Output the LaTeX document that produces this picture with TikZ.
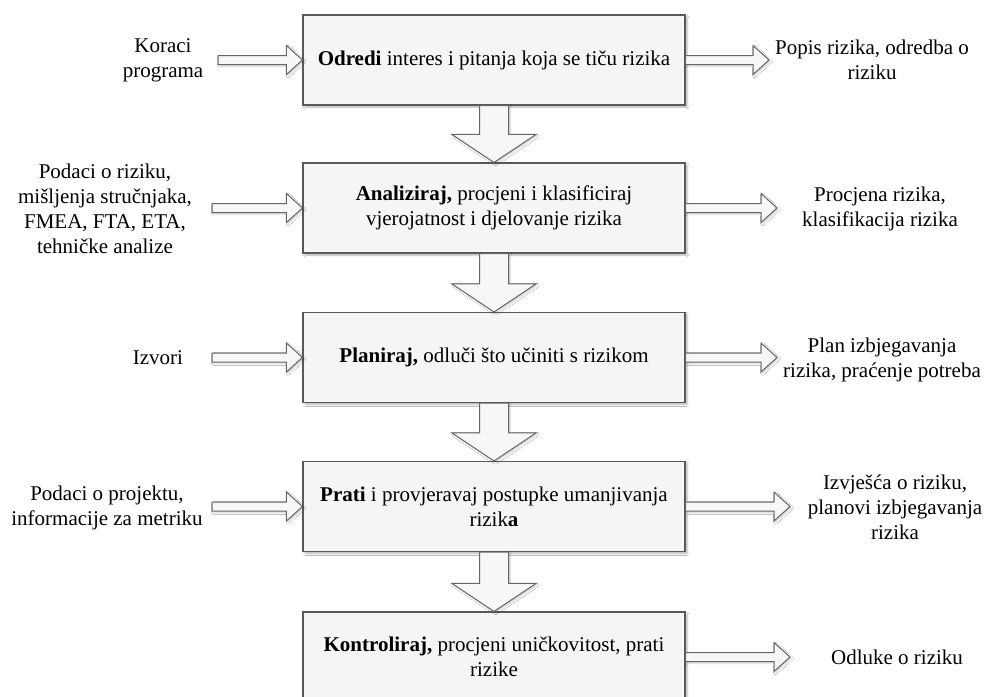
\documentclass[tikz,border=0pt]{standalone}
\usepackage{fontspec}
\setmainfont{Liberation Serif}
\usetikzlibrary{calc,shadows.blur}
\tikzset{
  stage/.style={draw=black!65, line width=1.1pt, fill=black!4, minimum width=382pt,
    minimum height=90pt, inner sep=0pt, align=center,
    font=\fontsize{21}{25}\selectfont,
    blur shadow={shadow xshift=2pt, shadow yshift=-2pt, shadow blur steps=6, shadow opacity=30}},
  lbl/.style={align=center, font=\fontsize{21}{25}\selectfont, inner sep=0pt},
  barrow/.style={draw=black!60, line width=1pt, fill=black!3, line join=miter,
    blur shadow={shadow xshift=1.5pt, shadow yshift=-1.5pt, shadow blur steps=4, shadow opacity=20}},
}
% vertical block arrow from #1 (top) down to #2 (tip)
\newcommand\vblockarrow[2]{%
  \draw[barrow] ($(#1)+(-14.5,0)$) -- ($(#2)+(-14.5,-28)$) -- ($(#2)+(-42,-28)$) -- (#2)
    -- ($(#2)+(42,-28)$) -- ($(#2)+(14.5,-28)$) -- ($(#1)+(14.5,0)$) -- cycle;}
% horizontal block arrow from #1 (start) right to #2 (tip)
\newcommand\hblockarrow[2]{%
  \draw[barrow] ($(#1)+(0,-4.5)$) -- ($(#2)+(-16,-4.5)$) -- ($(#2)+(-16,-14.5)$) -- (#2)
    -- ($(#2)+(-16,14.5)$) -- ($(#2)+(-16,4.5)$) -- ($(#1)+(0,4.5)$) -- cycle;}
\begin{document}
\begin{tikzpicture}[x=1pt,y=-1pt]
\useasboundingbox (0,0) rectangle (990,696);
\clip (0,0) rectangle (990,696);
\fill[white] (0,0) rectangle (990,696);

% stages
\node[stage] (b1) at (494,60) {\textbf{Odredi} interes i pitanja koja se tiču rizika};
\node[stage] (b2) at (494,208) {\textbf{Analiziraj,} procjeni i klasificiraj\\vjerojatnost i djelovanje rizika};
\node[stage] (b3) at (494,357.5) {\textbf{Planiraj,} odluči što učiniti s rizikom};
\node[stage] (b4) at (494,506.5) {\textbf{Prati} i provjeravaj postupke umanjivanja\\rizik\textbf{a}};
\node[stage] (b5) at (494,657) {\textbf{Kontroliraj,} procjeni uničkovitost, prati\\rizike};

% inputs
\node[lbl] (i1) at (163,60) {Koraci\\programa};
\node[lbl] (i2) at (105,209) {Podaci o riziku,\\mišljenja stručnjaka,\\FMEA, FTA, ETA,\\tehničke analize};
\node[lbl] (i3) at (158,358) {Izvori};
\node[lbl] (i4) at (107,507.5) {Podaci o projektu,\\informacije za metriku};

% outputs
\node[lbl] (o1) at (872,60) {Popis rizika, odredba o\\riziku};
\node[lbl] (o2) at (880,209) {Procjena rizika,\\klasifikacija rizika};
\node[lbl] (o3) at (882,359.5) {Plan izbjegavanja\\rizika, praćenje potreba};
\node[lbl] (o4) at (895,507) {Izvješća o riziku,\\planovi izbjegavanja\\rizika};
\node[lbl] (o5) at (897,657) {Odluke o riziku};

% arrow end points
\coordinate (s1) at (218,60);
\coordinate (s2) at (212,208);
\coordinate (s3) at (212,357.5);
\coordinate (s4) at (212,506.5);
\coordinate (e1) at (769,60);
\coordinate (e2) at (777,208);
\coordinate (e3) at (777,357.5);
\coordinate (e4) at (790,506.5);
\coordinate (e5) at (790,657);

% flow arrows
\vblockarrow{b1.south}{b2.north}
\vblockarrow{b2.south}{b3.north}
\vblockarrow{b3.south}{b4.north}
\vblockarrow{b4.south}{b5.north}

\hblockarrow{s1}{b1.west}
\hblockarrow{s2}{b2.west}
\hblockarrow{s3}{b3.west}
\hblockarrow{s4}{b4.west}

\hblockarrow{b1.east}{e1}
\hblockarrow{b2.east}{e2}
\hblockarrow{b3.east}{e3}
\hblockarrow{b4.east}{e4}
\hblockarrow{b5.east}{e5}
\end{tikzpicture}
\end{document}
